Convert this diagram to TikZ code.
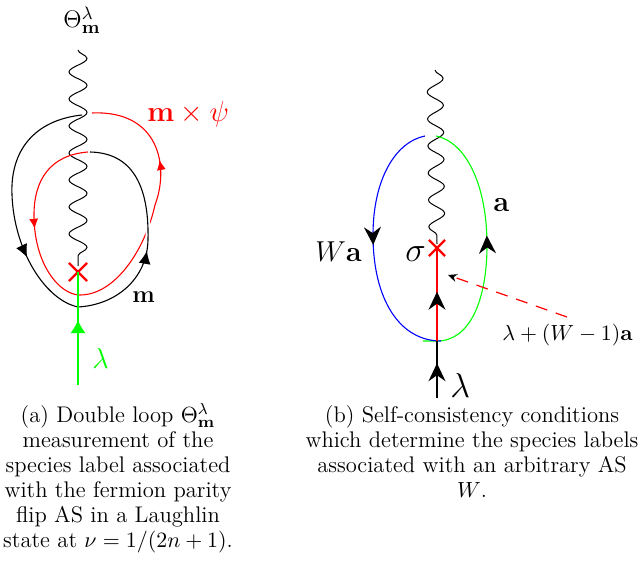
\documentclass[tikz,border=0pt]{standalone}
\usetikzlibrary{arrows.meta,decorations.pathmorphing,decorations.markings,shapes.misc}
\tikzset{
  atipK/.tip={Latex[length=6.5pt,width=6pt]},
  atipR/.tip={Latex[length=5pt,width=4.5pt]},
  atipG/.tip={Latex[length=6.5pt,width=7.5pt]},
  btip/.tip={Stealth[length=9pt,width=8.5pt,inset=3pt,color=black]},
  dtip/.tip={Stealth[length=4.5pt,width=4pt,color=black]},
}
\begin{document}
\begin{tikzpicture}[x=0.5pt,y=-0.5pt,
  txt/.style={inner sep=0pt, font=\fontsize{11.3}{12.5}\selectfont},
  wavy/.style={line width=0.5pt, decorate, decoration={snake, segment length=13.5pt, amplitude=#1}},
  xmark/.style={cross out, draw=red, line width=1.1pt, minimum size=#1, inner sep=0pt},
  curve/.style={line width=0.55pt},
  tipat/.style 2 args={postaction={decorate, decoration={markings, mark=at position #1 with {\arrow{#2}}}}},
]
\useasboundingbox (0,0) rectangle (642,561);

% ---------- panel (a) ----------
\coordinate (wA) at (78,50);
\coordinate (wAend) at (78,266);
\draw[wavy=4.5pt] (wA) -- (wAend);

% red loop (m x psi)
\draw[curve, red, tipat={0.235}{atipR}, tipat={0.80}{atipR}]
  (88,152) .. controls (50,155) and (34,180) .. (34,215)
  .. controls (34,265) and (60,295) .. (80,295)
  .. controls (115,295) and (145,250) .. (155,205)
  .. controls (170,165) and (158,110) .. (92,113);

% gap in red under black
\begin{scope}
  \clip (138,200) rectangle (162,240);
  \draw[white, line width=2.5pt]
    (78,307) .. controls (115,305) and (147,280) .. (148,240)
    .. controls (149,195) and (138,153) .. (90,152);
\end{scope}

% black loop (m)
\draw[curve, black, tipat={0.38}{atipK}, tipat={0.73}{atipK}]
  (82,115) .. controls (35,120) and (10,150) .. (12,195)
  .. controls (14,250) and (45,300) .. (78,307)
  .. controls (115,305) and (147,280) .. (148,240)
  .. controls (149,195) and (138,153) .. (90,152);

\node[xmark=8pt] (crossA) at (78,272) {};
\coordinate (gA) at (78,385);
\draw[curve, green, tipat={0.575}{atipG}] (gA) -- (crossA.center);

\node[txt, anchor=base, font=\fontsize{12.5}{15}\selectfont] (thetaLbl) at (82,28) {$\Theta^{\lambda}_{\mathbf{m}}$};
\node[txt, anchor=base west, red, font=\fontsize{15}{18}\selectfont] (mpsi) at (147,122) {$\mathbf{m}\times\psi$};
\node[txt, anchor=base west, font=\fontsize{12.5}{15}\selectfont] (mLbl) at (132,302) {$\mathbf{m}$};
\node[txt, anchor=base west, green, font=\fontsize{15}{18}\selectfont] (lamA) at (92,368) {$\lambda$};

% ---------- panel (b) ----------
\coordinate (wB) at (435,70);
\coordinate (wBend) at (437,244);
\draw[wavy=4pt] (wB) -- (wBend);

\coordinate (bot) at (437,341);
\draw[curve, green, tipat={0.545}{btip}]
  (423,341) -- (bot) .. controls (470,341) and (487,300) .. (487,245)
  .. controls (487,185) and (466,142) .. (436,136);
\draw[curve, blue, tipat={0.5}{btip}]
  (425,136) .. controls (395,142) and (373,180) .. (373,235)
  .. controls (373,300) and (400,341) .. (441,341);

\node[xmark=7pt] (crossB) at (437,248) {};
\draw[curve, red, tipat={0.53}{btip}] (bot) -- (crossB.center);
\coordinate (stem) at (437,398);
\draw[curve, black, tipat={0.61}{btip}] (stem) -- (bot);

\coordinate (dashS) at (567,317);
\coordinate (dashE) at (448,275);
\draw[red, line width=0.6pt, dash pattern=on 6pt off 4.5pt, -dtip] (dashS) -- (dashE);

\node[txt, anchor=base west, font=\fontsize{13.5}{16}\selectfont] (WaLbl) at (315,262) {$W\mathbf{a}$};
\node[txt, anchor=base west, font=\fontsize{18}{21}\selectfont] (sigLbl) at (405,262) {$\sigma$};
\node[txt, anchor=base west, font=\fontsize{13.5}{16}\selectfont] (aLbl) at (493,212) {$\mathbf{a}$};
\node[txt, anchor=base west, font=\fontsize{18}{21}\selectfont] (lamB) at (450,397) {$\lambda$};
\node[txt, anchor=base west] (lamExpr) at (502,340) {$\lambda+(W-1)\mathbf{a}$};

% ---------- captions (base = baseline of last line) ----------
\node[txt, align=center, anchor=base] (capA) at (118,547)
  {(a) Double loop $\Theta^{\lambda}_{\mathbf{m}}$\\ measurement of the\\ species label associated\\ with the fermion parity\\ flip AS in a Laughlin\\ state at $\nu=1/(2n+1)$.};
\node[txt, align=center, anchor=base] (capB) at (472,497)
  {(b) Self-consistency conditions\\ which determine the species labels\\ associated with an arbitrary AS\\ $W$.};
\end{tikzpicture}
\end{document}
